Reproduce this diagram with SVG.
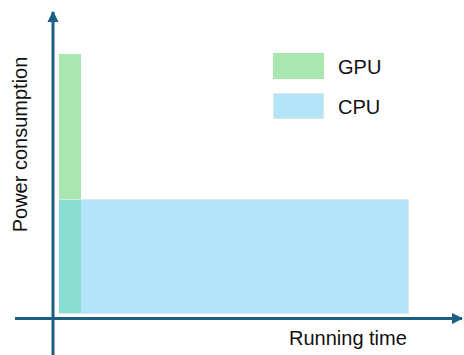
<svg xmlns="http://www.w3.org/2000/svg" width="464" height="355" viewBox="0 0 464 355">
<style>
.t{font-family:"Liberation Sans",Arial,sans-serif;font-size:20px;fill:#111}
.ax{stroke:#1d5f82;stroke-width:3;fill:none}
.gpu{fill:#a8e8b0}
.cpu{fill:#b3e4f7;stroke:#dde6ea;stroke-width:1}
</style>
<defs>
<marker id="ah" viewBox="0 0 10 10" refX="9" refY="5" markerWidth="3.8" markerHeight="3.8" orient="auto" markerUnits="strokeWidth">
<path d="M0,0 L10,5 L0,10 Z" fill="#1d5f82"/>
</marker>
</defs>
<g id="bars">
<rect class="gpu" x="59" y="54" width="22" height="259"/>
<rect class="cpu" x="59.5" y="199.5" width="349" height="114"/>
<rect x="59" y="200" width="22" height="113" fill="#88dcd0"/>
</g>
<g id="legend">
<rect class="gpu" x="273" y="53" width="51" height="26"/>
<text class="t" x="338" y="74">GPU</text>
<rect class="cpu" x="273.5" y="93.5" width="50" height="25"/>
<text class="t" x="338" y="114">CPU</text>
</g>
<g id="connectors">
<line class="ax" x1="53" y1="355" x2="53" y2="12" marker-end="url(#ah)"/>
<line class="ax" x1="15" y1="318.5" x2="462" y2="318.5" marker-end="url(#ah)"/>
</g>
<g id="labels">
<text class="t" x="289" y="345">Running time</text>
<text class="t" transform="translate(27,144.5) rotate(-90)" text-anchor="middle">Power consumption</text>
</g>
</svg>
